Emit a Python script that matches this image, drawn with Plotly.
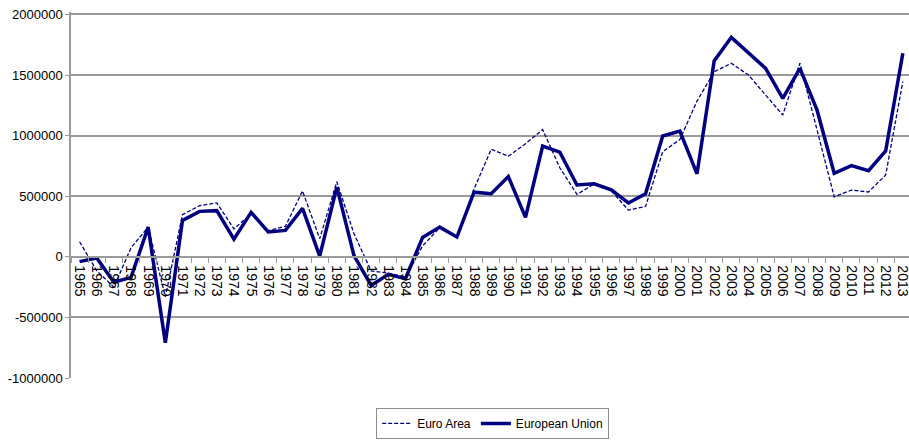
import plotly.graph_objects as go

years = [str(y) for y in range(1965, 2014)]

euro_area = [124000, -115000, -250000, 75000, 245000, -330000, 348000, 422000, 445000, 230000,
             355000, 215000, 252000, 543000, 150000, 620000, 190000, -117000, -134000, -167000,
             90000, 240000, 165000, 560000, 888000, 830000, 933000, 1050000, 735000, 515000,
             600000, 545000, 385000, 415000, 867000, 967000, 1285000, 1527000, 1597000, 1500000,
             1335000, 1170000, 1597000, 1045000, 495000, 550000, 535000, 675000, 1445000]

european_union = [-40000, -10000, -210000, -170000, 245000, -710000, 300000, 375000, 381000, 146000,
                  367000, 205000, 218000, 400000, 5000, 575000, 10000, -236000, -145000, -180000,
                  160000, 245000, 163000, 533000, 520000, 662000, 325000, 913000, 863000, 593000,
                  602000, 552000, 444000, 520000, 997000, 1037000, 685000, 1616000, 1811000, 1680000,
                  1555000, 1307000, 1555000, 1210000, 689000, 752000, 710000, 873000, 1680000]

y_ticks = [-1000000, -500000, 0, 500000, 1000000, 1500000, 2000000]

navy = "#000080"
grid = "#9a9a9a"
font = "Liberation Sans, Arial, sans-serif"

fig = go.Figure()
fig.add_trace(go.Scatter(x=years, y=euro_area, mode="lines", name="Euro Area",
                         line=dict(color=navy, width=1.3, dash="4px,2px")))
fig.add_trace(go.Scatter(x=years, y=european_union, mode="lines", name="European Union",
                         line=dict(color=navy, width=3.5)))

fig.update_layout(
    width=909, height=441,
    margin=dict(l=71, r=0, t=12, b=63),
    paper_bgcolor="white", plot_bgcolor="white",
    font=dict(family=font, color="#000000", size=13),
    showlegend=True,
    legend=dict(orientation="h", xref="container", yref="container",
                x=0.542, xanchor="center", y=0.075, yanchor="top",
                bordercolor="#8c8c8c", borderwidth=1, bgcolor="white",
                font=dict(size=12, family=font)),
    xaxis=dict(type="category", range=[-0.5, 48.36], anchor="free", position=1/3.02,
               showline=True, linecolor=grid, linewidth=1.5,
               ticks="outside", tickson="boundaries", ticklen=5, tickcolor=grid,
               tickangle=90, tickfont=dict(size=14, family=font), ticklabelstandoff=5,
               showgrid=False, automargin=False),
    yaxis=dict(range=[-1000000, 2020000], tickvals=y_ticks,
               ticktext=[str(v) for v in y_ticks],
               showline=True, linecolor=grid, linewidth=1.5,
               ticks="outside", ticklen=4, tickcolor=grid,
               showgrid=True, gridcolor=grid, gridwidth=1.5,
               zeroline=False, tickfont=dict(size=13, family=font),
               automargin=False),
)

fig.write_html("out.html", config={"displayModeBar": False},
               post_script="document.body.style.margin='0';document.body.style.padding='0';")
